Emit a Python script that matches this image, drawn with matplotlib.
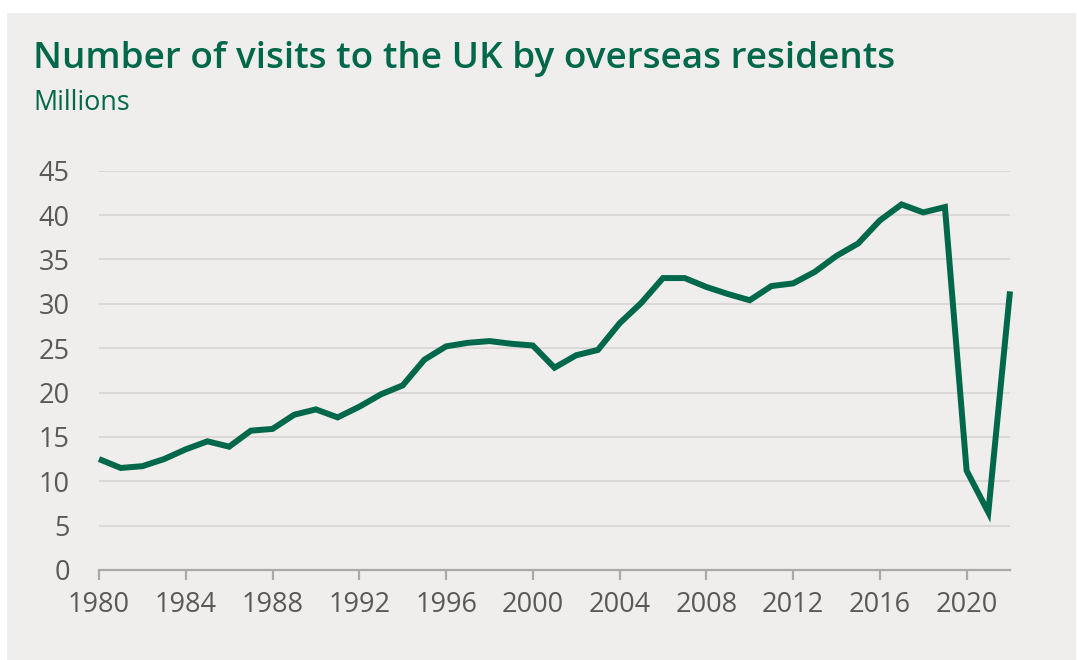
import matplotlib
matplotlib.use("Agg")
import matplotlib.pyplot as plt
from matplotlib.patches import Rectangle

# Overseas residents' visits to the UK, millions per year
years = list(range(1980, 2023))
visits = [12.5, 11.5, 11.7, 12.5, 13.6, 14.5, 13.9, 15.7, 15.9, 17.5,
          18.1, 17.2, 18.4, 19.8, 20.8, 23.7, 25.2, 25.6, 25.8, 25.5,
          25.3, 22.8, 24.2, 24.8, 27.8, 30.1, 32.9, 32.9, 31.9, 31.1,
          30.4, 32.0, 32.3, 33.6, 35.4, 36.8, 39.4, 41.2, 40.3, 40.9,
          11.2, 6.5, 31.4]
y_ticks = [0, 5, 10, 15, 20, 25, 30, 35, 40, 45]
x_ticks = list(range(1980, 2021, 4))

green = "#00684a"
grey_text = "#595959"
panel = "#efeeec"

plt.rcParams["font.family"] = ["Open Sans", "DejaVu Sans"]

W, H = 1077, 660
fig = plt.figure(figsize=(W / 100, H / 100), dpi=100)
fig.patch.set_facecolor("white")
fig.add_artist(Rectangle((7 / W, 0), 1 - 8 / W, 1 - 13 / H,
                         transform=fig.transFigure, facecolor=panel,
                         edgecolor="none", zorder=0))

fig.text(33 / W, 1 - 68 / H, "Number of visits to the UK by overseas residents",
         color=green, fontsize=26.6, fontweight="semibold", va="baseline")
fig.text(33 / W, 1 - 110 / H, "Millions", color=green, fontsize=19.4, va="baseline")

ax = fig.add_axes([99 / W, 90 / H, 911 / W, 399.3 / H])
ax.set_facecolor("none")
ax.plot(years, visits, color=green, lw=4.3, solid_joinstyle="miter",
        solid_capstyle="butt", zorder=3, clip_on=False)

ax.set_xlim(1980, 2022)
ax.set_ylim(0, 45)
ax.set_yticks(y_ticks)
ax.set_xticks(x_ticks)
ax.yaxis.grid(True, color="#dbd6d5", lw=1.3)
ax.set_axisbelow(True)
for s in ["top", "right", "left"]:
    ax.spines[s].set_visible(False)
ax.spines["bottom"].set_color("#a9a9a9")
ax.spines["bottom"].set_linewidth(1.6)
ax.spines["bottom"].set_zorder(4)
ax.tick_params(axis="y", length=0, pad=21, labelsize=19.5, labelcolor=grey_text)
ax.tick_params(axis="x", length=7, width=1.6, color="#a9a9a9", pad=8,
               labelsize=19.5, labelcolor=grey_text)

fig.savefig("out.png", dpi=100)
